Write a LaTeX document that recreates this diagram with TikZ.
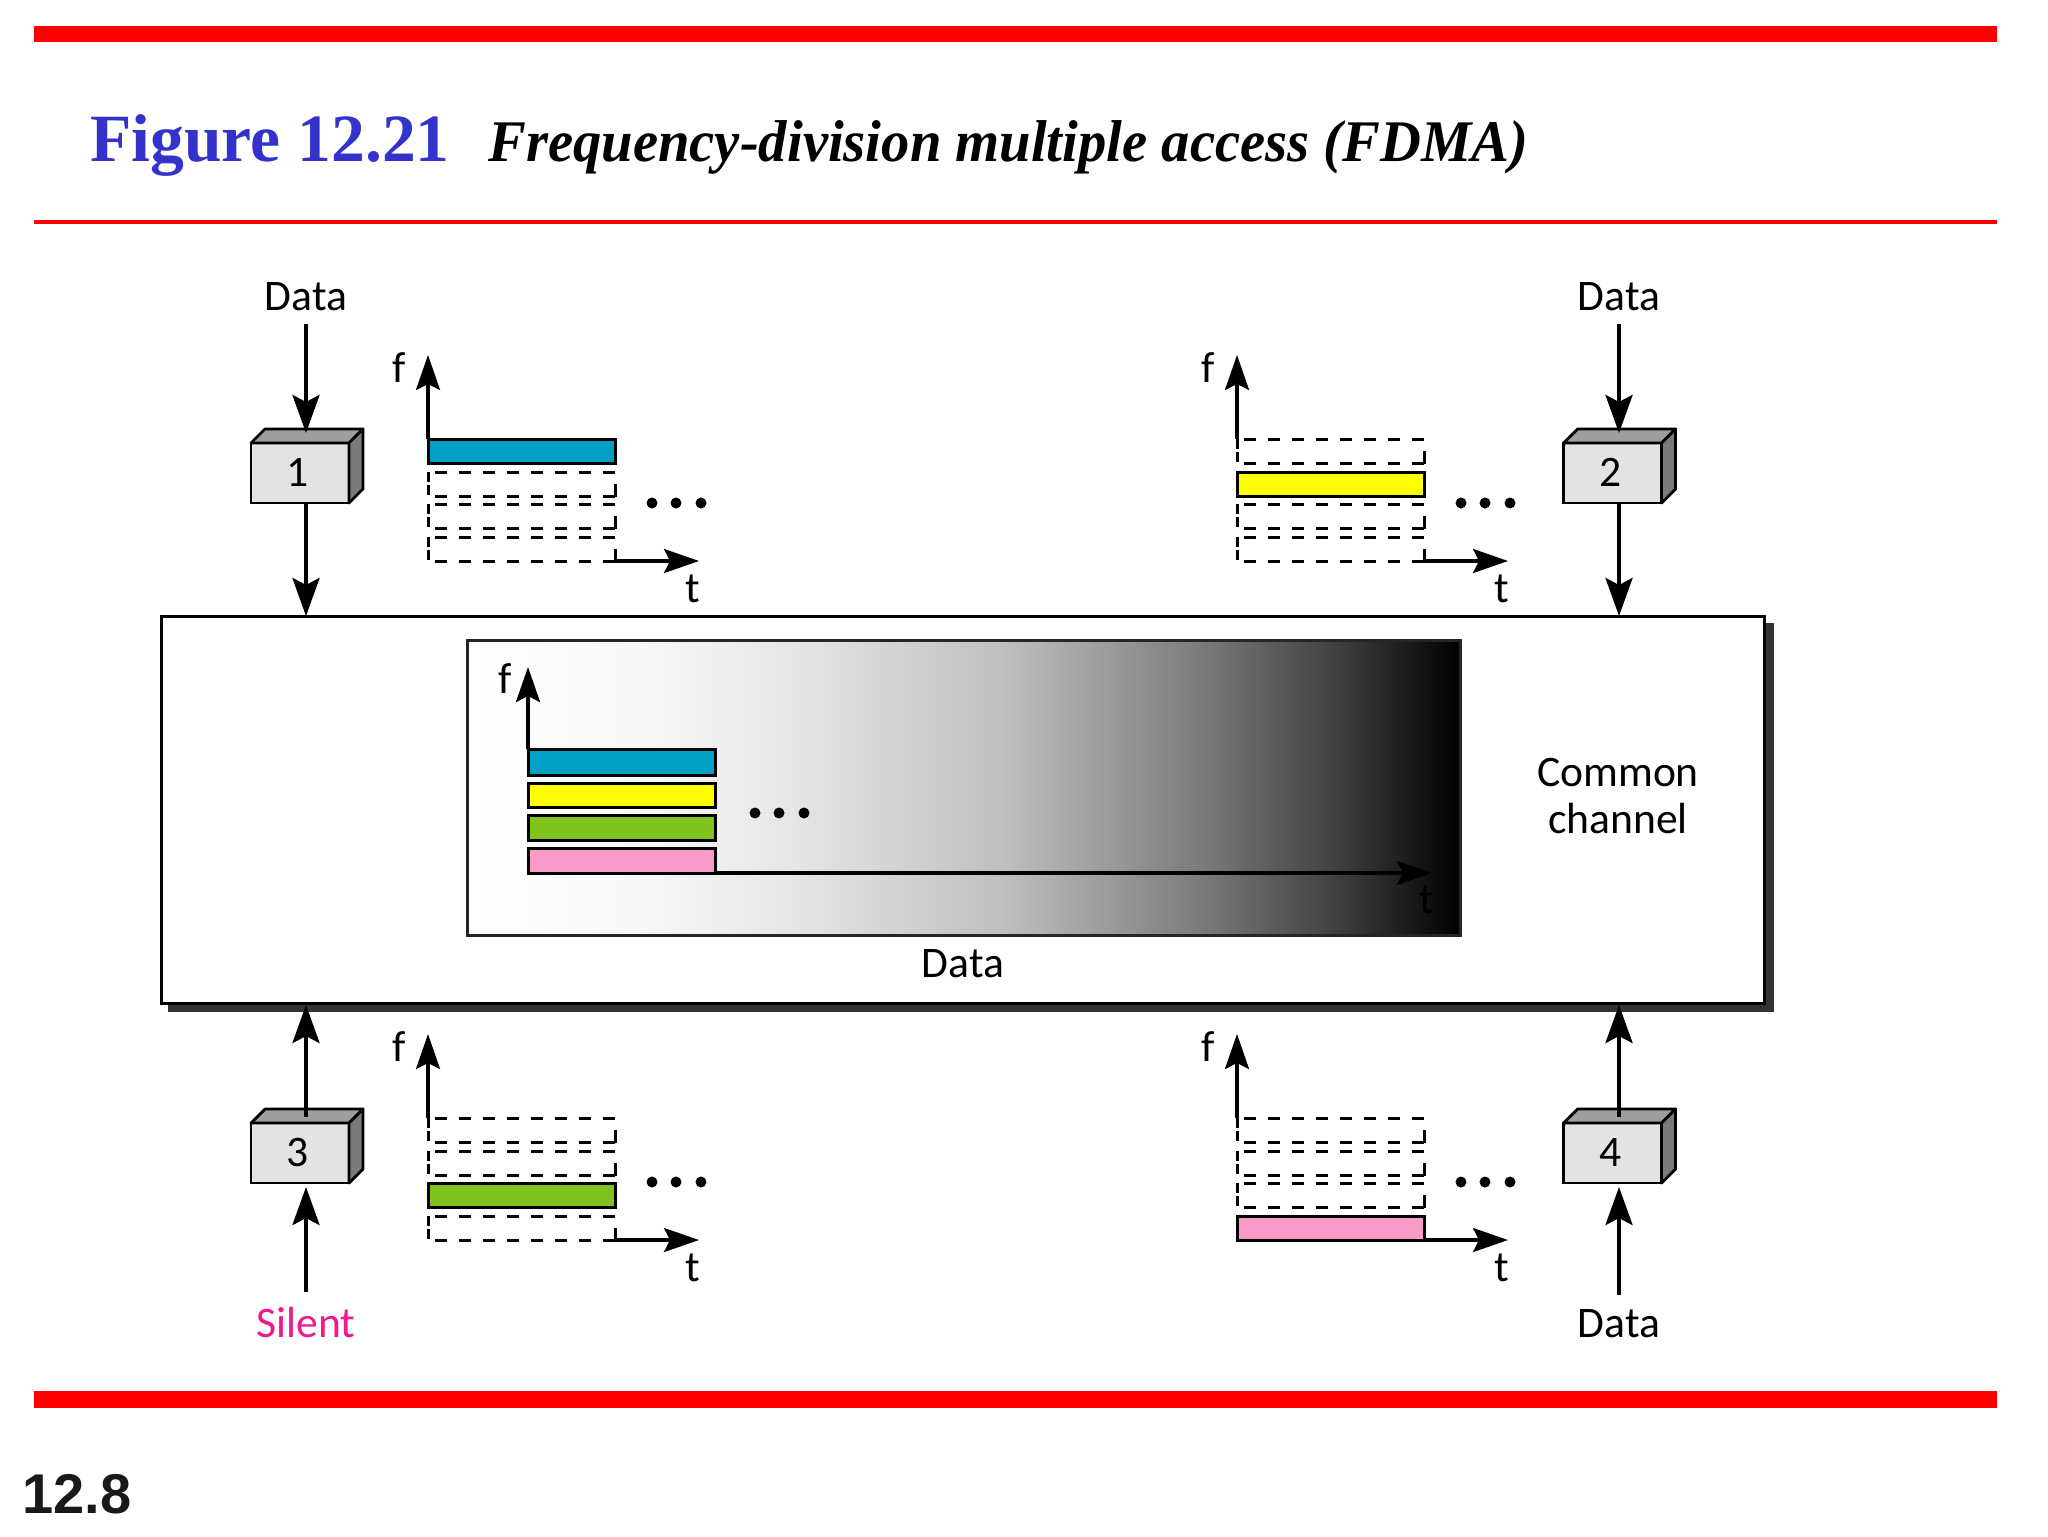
\documentclass[tikz,border=0pt]{standalone}
\usepackage{fontspec}
\setmainfont{Carlito}
\newfontfamily\headfont{Liberation Serif}
\newfontfamily\headnarrow{Liberation Serif}[FakeStretch=0.96]
\newfontfamily\pagefont{Liberation Sans}
\usetikzlibrary{arrows.meta}

\definecolor{rulered}{HTML}{FF0000}
\definecolor{headblue}{HTML}{3333CC}
\definecolor{silentpink}{HTML}{EE1A8E}
\definecolor{slotcyan}{HTML}{00A0C6}
\definecolor{slotyellow}{HTML}{FFFF00}
\definecolor{slotgreen}{HTML}{7FC41C}
\definecolor{slotpink}{HTML}{F99BC9}

% stops sit between 25bp and 75bp, which is what a path's box maps to
\pgfdeclarehorizontalshading{fadebar}{100bp}{
    color(0bp)=(white); color(25bp)=(white); color(34bp)=(black!3);
    color(41.5bp)=(black!10); color(52bp)=(black!25); color(62bp)=(black!52);
    color(68.5bp)=(black!74); color(75bp)=(black); color(100bp)=(black)}

\tikzset{
    label/.style = {inner sep=0pt, anchor=base, font=\fontsize{21.8}{26}\selectfont},
    flow/.style = {line width=2pt, -{Stealth[length=19pt,width=13.5pt,inset=3.5pt]}},
    axis/.style = {line width=1.6pt, -{Stealth[length=17.5pt,width=12pt,inset=3pt]}},
    slot/.style = {line width=1.5pt, draw=black},
    slotdash/.style = {line width=1.5pt, dash pattern=on 6pt off 6pt, dash phase=8.5pt},
    slotside/.style = {line width=1.5pt, dash pattern=on 5pt off 1.5pt},
    station/.style = {draw, line width=1.4pt, fill=black!11, outer sep=0pt, inner sep=0pt,
        minimum width=49pt, minimum height=30pt, font=\fontsize{21.8}{26}\selectfont},
    stationtop/.style = {draw, line width=1.4pt, fill=black!38, line join=round},
    stationside/.style = {draw, line width=1.4pt, fill=black!52, line join=round},
    dot/.style = {circle, fill=black, inner sep=0pt, minimum size=5.5pt},
}

% station box: name, x, y, number
\newcommand{\stationbox}[4]{
    \node[station] (#1) at (#2,#3) {\raisebox{1pt}{#4}\kern2pt};
    \draw[stationtop] (#1.north west) -- ++(14,-14) -- ++(98,0) -- (#1.north east) -- cycle;
    \draw[stationside] (#1.north east) -- ++(14,-14) -- ++(0,60) -- (#1.south east) -- cycle;
}

% f-t chart of one station: name, origin x, origin y, used slot, colour
\newcommand{\fdmachart}[5]{
    \coordinate (#1o) at (#2,#3);
    \coordinate (#1s) at (#2,#3-122);
    \coordinate (#1e) at (#2+187,#3);
    \coordinate (#1f) at (#2,#3-206);
    \coordinate (#1t) at (#2+271,#3);
    \foreach \slottop [count=\i] in {122,89,57,24}{
        \ifnum\i=#4\else
            \draw[slotdash] (#2,#3-\slottop) -- (#2+187,#3-\slottop);
            \draw[slotdash] (#2,#3-\slottop+24) -- (#2+187,#3-\slottop+24);
            \draw[slotside] (#2,#3-\slottop) -- (#2,#3-\slottop+24);
            \draw[line width=1.5pt] (#2+187,#3-\slottop+24.7) -- (#2+187,#3-\slottop+12);
        \fi
    }
    \foreach \slottop [count=\i] in {122,89,57,24}{
        \ifnum\i=#4
            \draw[slot, fill=#5] (#2,#3-\slottop) rectangle (#2+187,#3-\slottop+24);
        \fi
    }
    \draw[axis] (#1s) -- (#1f);
    \draw[axis] (#1e) -- (#1t);
    \node[label] (#1flabel) at (#2-29,#3-179) {f};
    \node[label] (#1tlabel) at (#2+265,#3+41) {t};
    \node[dot] (#1d1) at (#2+224,#3-58) {};
    \node[dot] (#1d2) at (#2+248,#3-58) {};
    \node[dot] (#1d3) at (#2+273,#3-58) {};
}

\begin{document}
\begin{tikzpicture}[x=0.5pt,y=-0.5pt]
    \useasboundingbox (0,0) rectangle (2048,1536);

    % rules and heading
    \fill[rulered] (34,26) rectangle (1997,42);
    \fill[rulered] (34,220) rectangle (1997,224);
    \fill[rulered] (34,1391) rectangle (1997,1408);
    \node[anchor=base west, inner sep=0pt, text=headblue,
        font=\headfont\bfseries\fontsize{33.8}{40}\selectfont] (fignum) at (90,162) {Figure 12.21};
    \node[anchor=base west, inner sep=0pt,
        font=\headnarrow\bfseries\itshape\fontsize{29.5}{36}\selectfont] (figtitle) at (488,162)
        {Frequency-division multiple access (FDMA)};
    \node[anchor=base west, inner sep=0pt, text=black!90,
        font=\pagefont\bfseries\fontsize{28}{34}\selectfont] (pagenum) at (22,1513) {12.8};

    % common channel
    \fill[black!80] (168,623) rectangle (1774,1012);
    \node[draw, fill=white, line width=1.5pt, outer sep=0pt, inner sep=0pt,
        minimum width=801.5pt, minimum height=193.5pt] (chan) at (962.5,809.5) {};
    \node[draw=black!85, line width=1.5pt, shading=fadebar, outer sep=0pt, inner sep=0pt,
        minimum width=496.5pt, minimum height=147.5pt] (fade) at (963.5,787.5) {};
    \node[label] (cc1) at (1618,786) {Common};
    \node[label] (cc2) at (1618,833) {channel};
    \node[label] (chandata) at (963,977) {Data};

    % chart of the shared channel
    \coordinate (mo) at (528,873);
    \coordinate (ms) at (528,749);
    \coordinate (me) at (715,873);
    \coordinate (mf) at (528,667);
    \coordinate (mt) at (1432,873);
    \draw[slot, fill=slotcyan] (528,749) rectangle (715,775);
    \draw[slot, fill=slotyellow] (528,783) rectangle (715,807);
    \draw[slot, fill=slotgreen] (528,815) rectangle (715,840);
    \draw[slot, fill=slotpink] (528,848) rectangle (715,873);
    \draw[axis] (ms) -- (mf);
    \draw[axis] (me) -- (mt);
    \node[label] (mflabel) at (505,693) {f};
    \node[label] (mtlabel) at (1427,913) {t};
    \node[dot] (md1) at (755,813) {};
    \node[dot] (md2) at (779,813) {};
    \node[dot] (md3) at (804,813) {};

    % stations
    \stationbox{st1}{300}{473}{1}
    \stationbox{st2}{1612.5}{473}{2}
    \stationbox{st3}{300}{1153}{3}
    \stationbox{st4}{1612.5}{1153}{4}

    \fdmachart{c1}{428}{561}{1}{slotcyan}
    \fdmachart{c2}{1237}{561}{2}{slotyellow}
    \fdmachart{c3}{428}{1240}{3}{slotgreen}
    \fdmachart{c4}{1237}{1240}{4}{slotpink}

    % inputs and outputs
    \node[label] (in1) at (306,310) {Data};
    \node[label] (in2) at (1619,310) {Data};
    \node[label, text=silentpink] (in3) at (306,1337) {Silent};
    \node[label] (in4) at (1619,1337) {Data};

    \draw[flow, shorten <=6.5pt, shorten >=5pt] (in1.south) -- (st1.north -| in1.south);
    \draw[flow, shorten <=6.5pt, shorten >=5pt] (in2.south) -- (st2.north -| in2.south);
    \draw[flow] (st1.south -| in1.south) -- (chan.north -| in1.south);
    \draw[flow] (st2.south -| in2.south) -- (chan.north -| in2.south);
    \draw[flow, shorten <=7pt, shorten >=2pt] (in3.north) -- (st3.south -| in3.north);
    \draw[flow, shorten <=7pt, shorten >=2pt] (in4.north) -- (st4.south -| in4.north);
    \draw[flow, shorten <=3pt, shorten >=1pt] (st3.north -| in3.north) -- (chan.south -| in3.north);
    \draw[flow, shorten <=3pt, shorten >=1pt] (st4.north -| in4.north) -- (chan.south -| in4.north);
\end{tikzpicture}
\end{document}
